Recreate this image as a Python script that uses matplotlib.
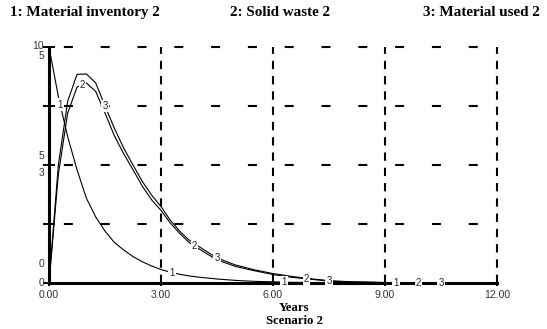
import matplotlib
matplotlib.use('Agg')
import matplotlib.pyplot as plt
import numpy as np

plt.rcParams['lines.scale_dashes'] = False

# dados (STELLA, Scenario 2)
anos = [0, 0.25, 0.5, 0.75, 1.0, 1.25, 1.5, 1.75, 2.0, 2.25, 2.5, 2.75, 3.0,
        3.25, 3.5, 3.75, 4.0, 4.5, 5.0, 5.5, 6.0, 6.5, 7.0, 7.5, 8.0, 9.0,
        10.0, 11.0, 12.0]
inventario = [10, 7.9, 6.2, 4.8, 3.6, 2.8, 2.2, 1.72, 1.4, 1.12, 0.9, 0.72,
              0.57, 0.46, 0.37, 0.3, 0.25, 0.17, 0.11, 0.07, 0.05, 0.03,
              0.02, 0.01, 0.01, 0, 0, 0, 0]
residuo = [0, 2.3, 3.6, 4.15, 4.24, 4.06, 3.6, 3.12, 2.74, 2.4, 2.05, 1.76,
           1.54, 1.27, 1.05, 0.86, 0.73, 0.49, 0.35, 0.26, 0.18, 0.12, 0.08,
           0.04, 0.02, 0.01, 0, 0, 0]
usado = [0, 2.5, 3.85, 4.42, 4.43, 4.24, 3.75, 3.28, 2.86, 2.5, 2.15, 1.86,
         1.62, 1.33, 1.1, 0.91, 0.78, 0.53, 0.38, 0.28, 0.2, 0.14, 0.09,
         0.05, 0.03, 0.01, 0, 0, 0]

titulos = ['1: Material inventory 2', '2: Solid waste 2', '3: Material used 2']
x_ticks = [0, 3, 6, 9, 12]
x_labels = ['0.00', '3.00', '6.00', '9.00', '12.00']
y_labels = [('10', '5'), ('5', '3'), ('0', '0')]
pos_rotulos = {'1': [0.3, 3.3, 6.3, 9.3],
               '2': [0.9, 3.9, 6.9, 9.9],
               '3': [1.5, 4.5, 7.5, 10.5]}

fig = plt.figure(figsize=(5.47, 3.29), dpi=100)
ax = fig.add_axes([0.0896, 0.1398, 0.819, 0.7173])
ax.set_xlim(0, 12)
ax.set_ylim(0, 10)
ax2 = ax.twinx()
ax2.set_ylim(0, 5)
ax2.axis('off')

# grade tracejada
for v in [2.5, 5, 7.5, 10]:
    ax.axhline(v, color='black', lw=1.5, linestyle=(15.8, (6.5, 20)),
               clip_on=False, zorder=1)
for v in [3, 6, 9, 12]:
    ax.axvline(v, color='black', lw=1.5, linestyle=(0, (6, 5)),
               clip_on=False, zorder=1)

ax.plot(anos, inventario, color='black', lw=0.8, zorder=3)
ax2.plot(anos, residuo, color='black', lw=0.8, zorder=3)
ax2.plot(anos, usado, color='black', lw=0.8, zorder=3)

series = {'1': (inventario, ax.transData), '2': (residuo, ax2.transData),
          '3': (usado, ax2.transData)}
for nome, (vals, tr) in series.items():
    for t in pos_rotulos[nome]:
        ax2.text(t, np.interp(t, anos, vals), nome, transform=tr,
                 fontsize=7, family='Liberation Sans', color='#222222',
                 ha='center', va='center', zorder=6, clip_on=False,
                 bbox=dict(boxstyle='square,pad=0.12', fc='white', ec='none'))

for s in ['top', 'right']:
    ax.spines[s].set_visible(False)
ax.spines['left'].set_linewidth(2.2)
ax.spines['bottom'].set_linewidth(2.2)

ax.set_xticks(x_ticks)
ax.set_xticklabels(x_labels, fontsize=7.5, family='Liberation Sans', color='#333333')
ax.tick_params(axis='x', direction='out', length=2, width=1.5, pad=3)
ax.set_yticks([0, 2.5, 5, 7.5, 10])
ax.set_yticklabels([])
ax.tick_params(axis='y', direction='inout', length=8.5, width=1.4)

# rotulos duplos do eixo y
tr_y = ax.get_yaxis_transform()
y_pos = [(10.04, 9.6), (5.38, 4.68), (0.8, 0.0)]
for (a, b), (ya, yb) in zip(y_labels, y_pos):
    ax.text(-0.011, ya, a, transform=tr_y, ha='right', va='center', fontsize=7.5,
            family='Liberation Sans', color='#333333')
    ax.text(-0.011, yb, b, transform=tr_y, ha='right', va='center', fontsize=7.5,
            family='Liberation Sans', color='#333333')

fig.text(0.018, 0.951, titulos[0], fontsize=10.9, weight='bold', family='Liberation Serif')
fig.text(0.4205, 0.951, titulos[1], fontsize=10.9, weight='bold', family='Liberation Serif')
fig.text(0.773, 0.951, titulos[2], fontsize=10.9, weight='bold', family='Liberation Serif')

fig.text(0.538, 0.063, 'Years', ha='center', va='center', fontsize=9.2,
         weight='bold', family='Liberation Serif')
fig.text(0.538, 0.024, 'Scenario 2', ha='center', va='center', fontsize=9.2,
         weight='bold', family='Liberation Serif')

fig.savefig('out.png', dpi=100)
